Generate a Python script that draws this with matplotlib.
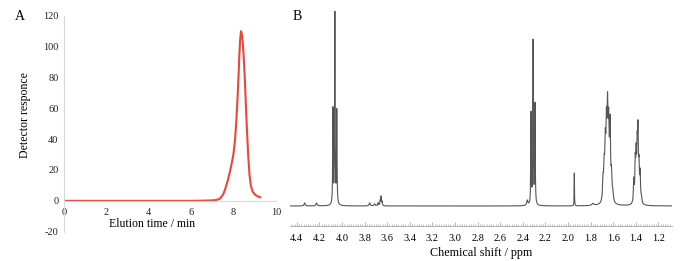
import matplotlib.pyplot as plt
import numpy as np

# ---- panel A: SEC trace ----
elution_time = [0, 1, 2, 3, 4, 5, 6, 6.5, 7.0, 7.2, 7.36, 7.5, 7.59, 7.7, 7.83, 7.92,
                7.99, 8.07, 8.13, 8.18, 8.23, 8.27, 8.31, 8.35, 8.39, 8.43, 8.46, 8.52,
                8.57, 8.63, 8.69, 8.75, 8.81, 8.9, 9.01, 9.12, 9.25]
detector_resp = [0, 0, 0, 0, 0, 0, 0, 0.1, 0.3, 0.6, 1.5, 4, 7, 12, 19, 25,
                 30, 40, 52, 65, 80, 94, 105, 110, 108, 103, 97, 82,
                 65, 46, 29, 17, 10, 6, 4, 3, 2.3]
a_xticks = [0, 2, 4, 6, 8, 10]
a_yticks = [-20, 0, 20, 40, 60, 80, 100, 120]

# ---- panel B: 1H NMR line list (ppm, height in px above baseline, half width ppm) ----
nmr_shift = [4.330, 4.225, 4.080, 4.063, 4.046, 3.755, 3.710, 3.680, 3.662, 3.654, 3.645,
             2.360, 2.327, 2.309, 2.292, 1.944, 1.780,
             1.690, 1.680, 1.670, 1.660, 1.650, 1.640, 1.628, 1.615, 1.603,
             1.418, 1.405, 1.397, 1.388, 1.381, 1.372, 1.362, 1.350]
nmr_height = [3, 3, 95, 195, 93, 3, 2, 3, 5, 9, 4,
              5, 91, 164, 100, 33, 2,
              20, 30, 50, 65, 80, 65, 72, 25, 8,
              22, 38, 42, 47, 64, 32, 28, 6]
nmr_width = [0.006, 0.006, 0.0025, 0.0025, 0.0025, 0.006, 0.006, 0.004, 0.003, 0.003, 0.003,
             0.006, 0.0025, 0.0025, 0.0025, 0.0015, 0.01,
             0.005, 0.005, 0.005, 0.005, 0.005, 0.005, 0.005, 0.005, 0.005,
             0.004, 0.004, 0.004, 0.004, 0.004, 0.004, 0.004, 0.004]
b_xticks = [4.4, 4.2, 4.0, 3.8, 3.6, 3.4, 3.2, 3.0, 2.8, 2.6, 2.4, 2.2, 2.0, 1.8, 1.6, 1.4, 1.2]

plt.rcParams['font.family'] = ['Liberation Serif', 'DejaVu Serif']
plt.rcParams['axes.unicode_minus'] = False

fig = plt.figure(figsize=(6.84, 2.61), dpi=100)

# panel A
axA = fig.add_axes([64/684, 1-231.7/261, 212/684, 216/261])
axA.plot(elution_time, detector_resp, color='#e8483c', lw=1.5)
axA.set_xlim(0, 10)
axA.set_ylim(-20, 120)
axA.set_xticks(a_xticks)
axA.set_yticks(a_yticks)
axA.spines['bottom'].set_position(('data', 0))
for s in ['top', 'right']:
    axA.spines[s].set_visible(False)
for s in ['bottom', 'left']:
    axA.spines[s].set_color('#d9d9d9')
    axA.spines[s].set_linewidth(0.8)
axA.tick_params(length=0, labelsize=7.5, colors='#222222')
axA.tick_params(axis='y', pad=4)
axA.tick_params(axis='x', pad=5)
axA.set_xlabel('Elution time / min', fontsize=8.5, labelpad=1, x=0.417)
axA.set_ylabel('Detector responce', fontsize=8.5, labelpad=9, y=0.54)
fig.text(15/684, 1-16/261, 'A', fontsize=10, ha='left', va='center')

# panel B
ppm = np.linspace(1.08, 4.46, 8000)
spec = np.zeros_like(ppm)
for c, h, w in zip(nmr_shift, nmr_height, nmr_width):
    spec += h / (1 + ((ppm - c) / w) ** 2)
spec = spec / 195.0

axB = fig.add_axes([290/684, 1-225.7/261, 382/684, 214.7/261])
axB.plot(ppm, spec, color='#555555', lw=0.8)
axB.set_xlim(4.46, 1.08)
axB.set_ylim(-19.7/195, 1.0)
axB.set_xticks(b_xticks)
axB.set_xticklabels([f'{t:.1f}' for t in b_xticks])
axB.set_xticks(np.arange(1.10, 4.46, 0.02), minor=True)
axB.set_yticks([])
for s in ['top', 'right', 'left']:
    axB.spines[s].set_visible(False)
axB.spines['bottom'].set_color('#aaaaaa')
axB.spines['bottom'].set_linewidth(0.6)
axB.tick_params(axis='x', which='major', direction='in', length=3, width=0.6,
                color='#aaaaaa', labelsize=7.5, pad=6)
axB.tick_params(axis='x', which='minor', direction='in', length=1.5, width=0.5,
                color='#aaaaaa')
axB.set_xlabel('Chemical shift / ppm', fontsize=8.7, labelpad=3)
fig.text(293/684, 1-16/261, 'B', fontsize=10, ha='left', va='center')

fig.savefig('out.png', dpi=100)
